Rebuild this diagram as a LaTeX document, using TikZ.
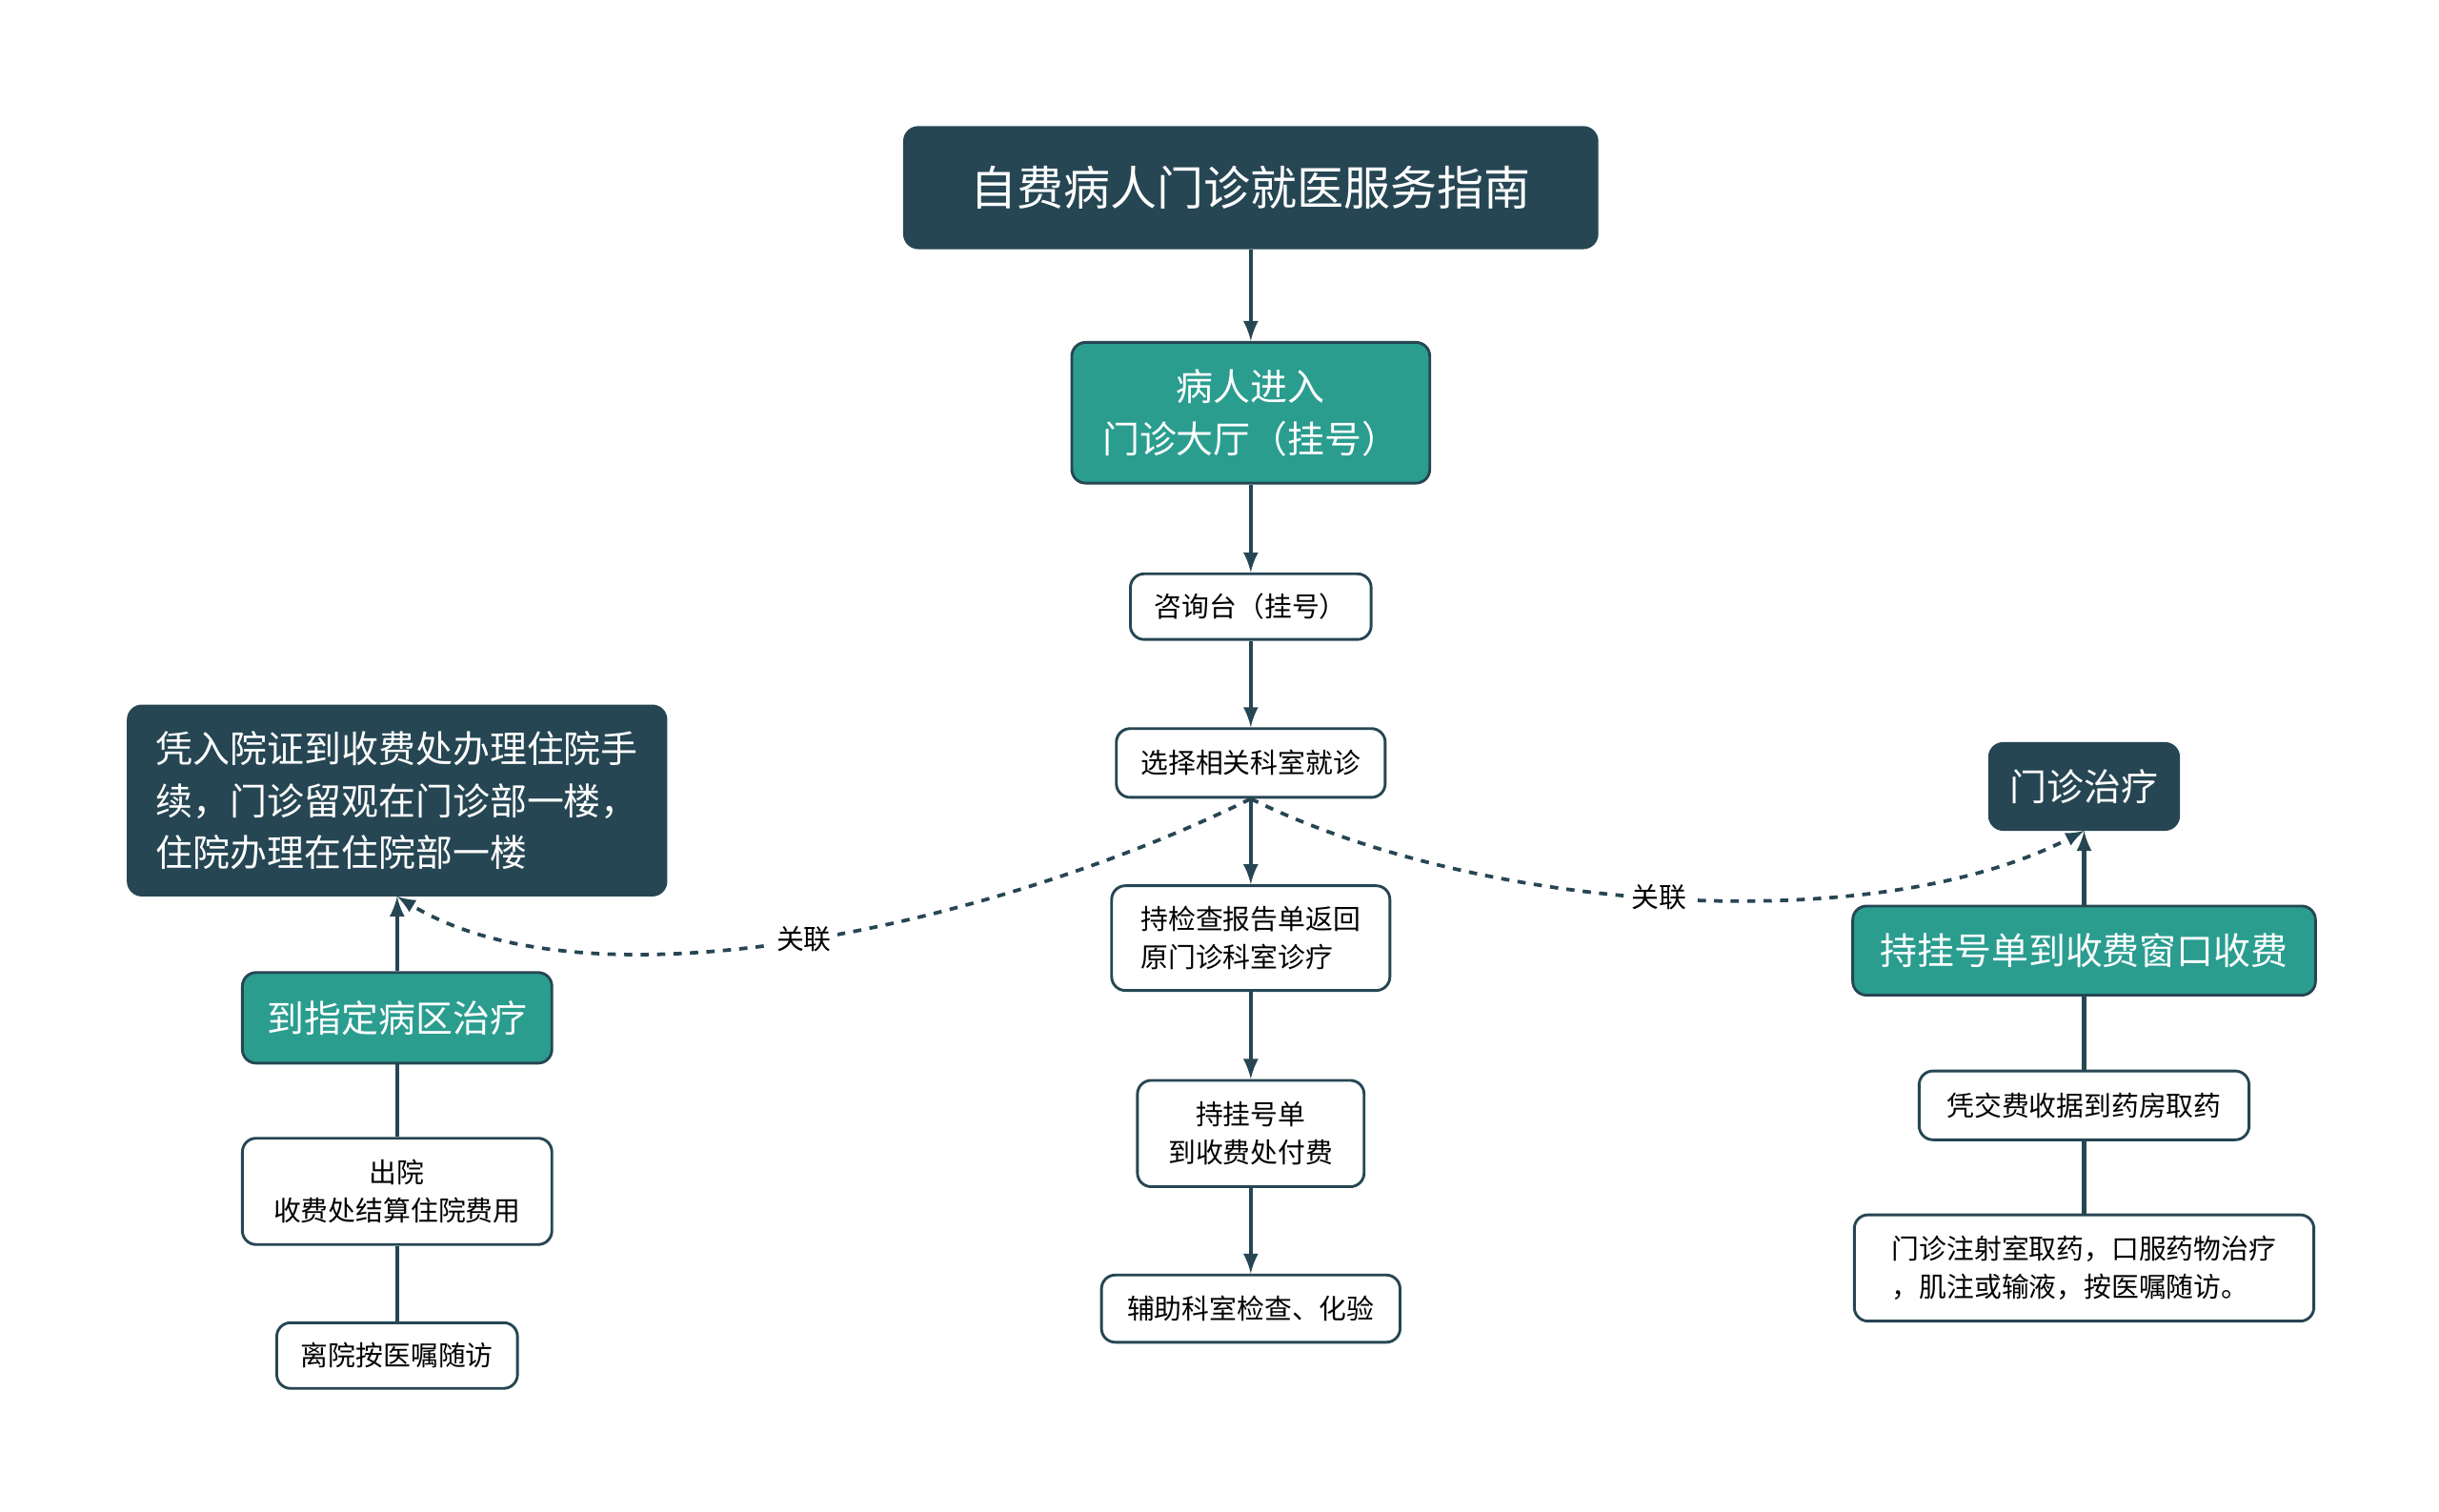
\documentclass[tikz,border=0pt]{standalone}
\usepackage{fontspec}
\setmainfont{Noto Sans CJK SC}
\usetikzlibrary{positioning}
\definecolor{darkbox}{HTML}{264653}
\definecolor{tealbox}{HTML}{2A9D8F}
\tikzset{
  topic/.style={draw=darkbox, fill=darkbox, text=white, rounded corners=5pt, line width=1pt, font=\fontsize{17}{22}\selectfont},
  mainstep/.style={draw=darkbox, fill=tealbox, text=white, rounded corners=5pt, line width=1pt, font=\fontsize{13.5}{19}\selectfont},
  substep/.style={draw=darkbox, fill=white, text=black, rounded corners=5pt, line width=1pt, font=\fontsize{10}{14}\selectfont},
  link/.style={draw=darkbox, line width=1.5pt},
  arr/.style={link, -latex},
  rel/.style={draw=darkbox, line width=1.3pt, dashed, -latex},
}
\begin{document}
\begin{tikzpicture}[x=0.02cm, y=-0.02cm]
    \useasboundingbox (0,0) rectangle (1560,966.5);
    % Center column
    \node[topic, minimum width=8.86cm, minimum height=1.54cm] (title) at (800,120) {自费病人门诊就医服务指南};
    \node[mainstep, minimum width=4.58cm, minimum height=1.8cm, align=center] (hall) at (800,264) {病人进入\\门诊大厅（挂号）};
    \node[substep, minimum width=3.08cm, minimum height=0.84cm] (desk) at (800,388) {咨询台（挂号）};
    \node[substep, minimum width=3.44cm, minimum height=0.88cm] (dept) at (800,488) {选择相关科室就诊};
    \node[substep, minimum width=3.56cm, minimum height=1.34cm, align=left] (report) at (800,600) {持检查报告单返回\\原门诊科室诊疗};
    \node[substep, minimum width=2.9cm, minimum height=1.36cm, align=center] (pay) at (800,725) {持挂号单\\到收费处付费};
    \node[substep, minimum width=3.82cm, minimum height=0.86cm] (lab) at (800,837) {辅助科室检查、化验};
    % Left branch
    \node[topic, minimum width=6.88cm, minimum height=2.42cm, align=left, font=\fontsize{13.5}{19}\selectfont] (inpat) at (254,512) {凭入院证到收费处办理住院手\\续，门诊留观在门诊部一楼，\\住院办理在住院部一楼};
    \node[mainstep, minimum width=3.96cm, minimum height=1.16cm] (ward) at (254,651) {到指定病区治疗};
    \node[substep, minimum width=3.96cm, minimum height=1.36cm, align=center] (leave) at (254,762) {出院\\收费处结算住院费用};
    \node[substep, minimum width=3.08cm, minimum height=0.84cm] (follow) at (254,867) {离院按医嘱随访};
    % Right branch
    \node[topic, minimum width=2.42cm, minimum height=1.1cm, font=\fontsize{13.5}{19}\selectfont] (outpat) at (1333,503) {门诊治疗};
    \node[mainstep, minimum width=5.92cm, minimum height=1.14cm] (window) at (1333,608) {持挂号单到收费窗口收费};
    \node[substep, minimum width=4.22cm, minimum height=0.88cm] (drug) at (1333,707) {凭交费收据到药房取药};
    \node[substep, minimum width=5.88cm, minimum height=1.36cm, align=left] (inject) at (1333,811) {门诊注射室取药，口服药物治疗\\，肌注或输液，按医嘱随访。};
    % Connectors
    \draw[arr] (title) -- (hall);
    \draw[arr] (hall) -- (desk);
    \draw[arr] (desk) -- (dept);
    \draw[arr] (dept) -- (report);
    \draw[arr] (report) -- (pay);
    \draw[arr] (pay) -- (lab);
    \draw[arr] (ward) -- (inpat);
    \draw[link] (ward) -- (leave);
    \draw[link] (leave) -- (follow);
    \draw[arr] (window) -- (outpat);
    \draw[link] (window) -- (drug);
    \draw[link] (drug) -- (inject);
    % Relations
    \draw[rel] (dept.south) .. controls (640,590) and (380,650) .. node[pos=0.5, fill=white, inner sep=2pt, font=\fontsize{10}{12}\selectfont] {关联} (inpat.south);
    \draw[rel] (dept.south) .. controls (950,585) and (1200,600) .. node[pos=0.48, fill=white, inner sep=2pt, font=\fontsize{10}{12}\selectfont] {关联} (outpat.south);
\end{tikzpicture}
\end{document}
